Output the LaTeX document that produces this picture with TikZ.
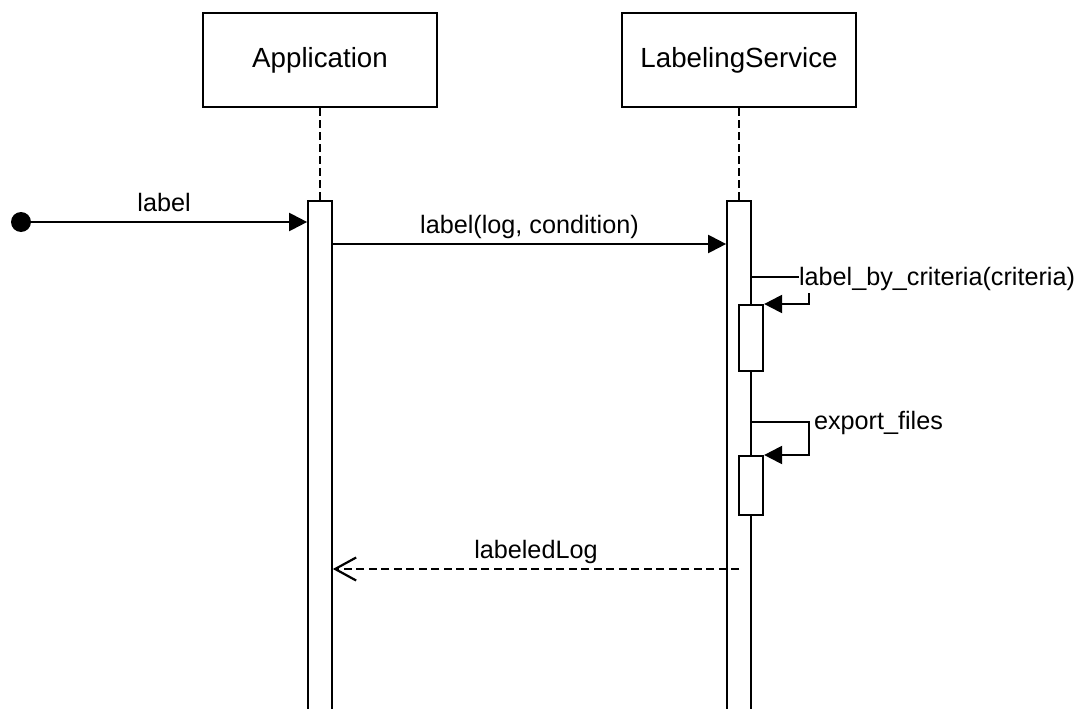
\documentclass[tikz,border=0pt]{standalone}
\usepackage{fontspec}
\setmainfont{Liberation Sans}
\usetikzlibrary{arrows.meta}

\tikzset{
  every picture/.style={line width=2.2pt},
  partbox/.style={draw, fill=white, minimum width=234pt, minimum height=94pt,
    inner sep=0pt, font=\fontsize{27.7pt}{33pt}\selectfont},
  actbox/.style={draw, fill=white, minimum width=23.5pt, inner sep=0pt, anchor=north},
  lifeline/.style={dash pattern=on 7.5pt off 4.5pt},
  sync/.style={-{Triangle[length=18pt,width=18pt]}},
  reply/.style={dash pattern=on 8pt off 4.5pt, -{Straight Barb[length=21pt,width=23pt]}},
  msg/.style={anchor=base, inner sep=0pt, yshift=11pt,
    font=\fontsize{25.2pt}{30pt}\selectfont},
  selfmsg/.style={anchor=base west, fill=white, inner xsep=0pt, inner ysep=2.5pt,
    font=\fontsize{25.2pt}{30pt}\selectfont},
  startdot/.style={circle, fill=black, inner sep=0pt, minimum size=20pt}
}

\begin{document}
\begin{tikzpicture}[x=1pt, y=-1pt]
  \useasboundingbox (0,0) rectangle (1088,709);
  \clip (0,0) rectangle (1088,709);

  % participants
  \node[partbox] (app) at (320,60) {Application};
  \node[partbox] (svc) at (739,60) {LabelingService};

  % message rows
  \coordinate (r2) at (0,244);
  \coordinate (c1) at (0,277);
  \coordinate (c2) at (0,422);
  \coordinate (r3) at (0,569);

  % lifelines
  \draw[lifeline] (app.south) -- (320,200);
  \draw[lifeline] (svc.south) -- (739,200);

  % activations
  \node[actbox, minimum height=530pt] (appAct) at (320,200) {};
  \node[actbox, minimum height=530pt] (svcAct) at (739,200) {};
  \node[actbox, minimum width=24pt, minimum height=66pt] (crit) at (751,304) {};
  \node[actbox, minimum width=24pt, minimum height=59pt] (exp) at (751,455) {};

  % found message
  \node[startdot] (start) at (21,222) {};
  \draw[sync] (start.center) -- (appAct.west |- start.center)
    node[msg, midway] {label};

  % call to the service
  \draw[sync] (appAct.east |- r2) -- (svcAct.west |- r2)
    node[msg, midway] {label(log, condition)};

  % self calls
  \draw[sync] (svcAct.east |- c1) -- ++(57,0) |- (crit.north east);
  \node[selfmsg] (l1) at (798,285) {label\_by\_criteria(criteria)};

  \draw[sync] (svcAct.east |- c2) -- ++(57,0) |- (exp.north east);
  \node[selfmsg] (l2) at (813,429) {export\_files};

  % reply
  \draw[reply] (svc.south |- r3) -- (appAct.east |- r3)
    node[msg, midway] {labeledLog};
\end{tikzpicture}
\end{document}
